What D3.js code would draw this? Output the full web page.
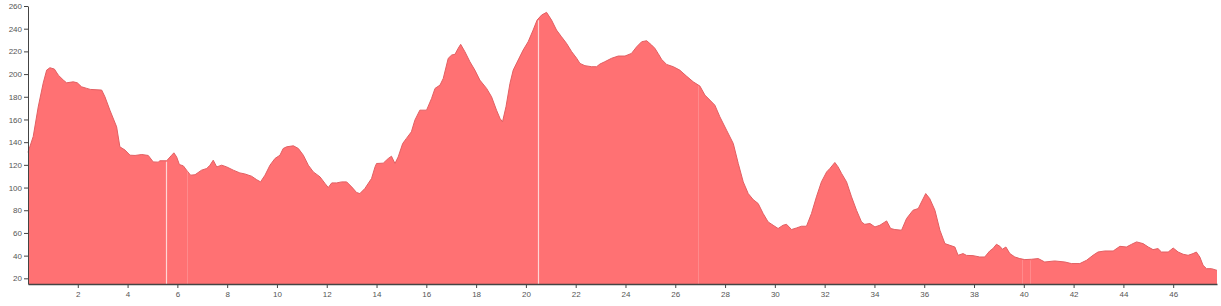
<!DOCTYPE html>
<html>
<head>
<meta charset="utf-8">
<script src="https://cdn.jsdelivr.net/npm/d3@7/dist/d3.min.js"></script>
<style>
  html, body { margin: 0; padding: 0; background: #ffffff; }
  svg { display: block; }
  .axis text { font-family: "Liberation Sans", Arial, sans-serif; font-size: 8px; fill: #555; }
  .axis path, .axis line { stroke: #444; }
</style>
</head>
<body>
<svg id="chart" width="1221" height="306"></svg>
<script>
// distance along route (km)
const distanceKm = [
  0.0, 0.21, 0.41, 0.61, 0.75, 0.88, 1.06, 1.22, 1.42, 1.55, 1.82, 1.98, 2.15, 2.36, 2.5, 2.96, 3.09, 3.29, 3.56, 3.69,
  3.9, 4.1, 4.3, 4.57, 4.83, 5.03, 5.23, 5.3, 5.57, 5.77, 5.86, 5.97, 6.08, 6.24, 6.37, 6.53, 6.71, 6.97, 7.18, 7.31,
  7.44, 7.58, 7.78, 7.98, 8.25, 8.51, 8.71, 8.98, 9.18, 9.34, 9.52, 9.72, 9.92, 10.12, 10.25, 10.39, 10.66, 10.86, 11.06, 11.26,
  11.46, 11.73, 11.93, 12.06, 12.2, 12.4, 12.6, 12.8, 13.0, 13.2, 13.33, 13.53, 13.8, 13.94, 14.0, 14.27, 14.47, 14.6, 14.74, 14.87,
  15.05, 15.2, 15.4, 15.54, 15.74, 16.01, 16.21, 16.35, 16.55, 16.68, 16.88, 17.02, 17.15, 17.28, 17.38, 17.55, 17.75, 17.95, 18.15, 18.42,
  18.62, 18.82, 18.96, 19.06, 19.2, 19.36, 19.49, 19.69, 19.89, 20.09, 20.29, 20.45, 20.63, 20.83, 21.03, 21.23, 21.43, 21.63, 21.84, 22.04,
  22.17, 22.37, 22.64, 22.84, 22.97, 23.17, 23.44, 23.71, 23.98, 24.24, 24.45, 24.65, 24.85, 25.05, 25.18, 25.31, 25.45, 25.65, 25.92, 26.18,
  26.45, 26.72, 26.99, 27.19, 27.39, 27.59, 27.79, 28.06, 28.33, 28.53, 28.73, 28.93, 29.13, 29.33, 29.53, 29.73, 29.93, 30.13, 30.33, 30.47,
  30.67, 30.87, 31.07, 31.27, 31.47, 31.67, 31.87, 32.08, 32.21, 32.41, 32.54, 32.68, 32.88, 33.08, 33.28, 33.48, 33.61, 33.82, 34.02, 34.22,
  34.49, 34.65, 34.82, 35.09, 35.29, 35.55, 35.76, 35.89, 36.06, 36.22, 36.43, 36.63, 36.83, 37.03, 37.23, 37.36, 37.56, 37.7, 37.96, 38.23,
  38.43, 38.63, 38.76, 38.9, 39.04, 39.14, 39.28, 39.44, 39.64, 39.84, 40.04, 40.31, 40.58, 40.84, 41.24, 41.65, 41.91, 42.25, 42.52, 42.78,
  42.98, 43.25, 43.59, 43.86, 44.12, 44.33, 44.53, 44.79, 45.0, 45.19, 45.39, 45.53, 45.8, 46.0, 46.2, 46.4, 46.6, 46.8, 46.93, 47.07,
  47.2, 47.34, 47.54, 47.76
];
// elevation (m)
const elevationM = [
  131, 145, 171, 192, 203.5, 205.6, 204.4, 199, 194.7, 192.3, 193.2, 192.3, 188.8, 187.4, 186.5, 185.9, 180, 168.2, 153.5, 135.9,
  133, 128.5, 128.3, 129.1, 128.3, 122.6, 122.4, 123.6, 123.6, 128.5, 130.6, 127, 120.3, 119.1, 115.3, 110.9, 111.3, 115.3, 116.8, 119.7,
  124.1, 118.2, 119.7, 118.2, 115.3, 112.9, 112, 110, 107, 105, 110.9, 119.7, 125.6, 128.5, 134.4, 135.9, 136.8, 134.4, 128.5, 119.7,
  113.8, 109.4, 103.6, 100, 104.1, 104.1, 105, 105, 100.6, 95.6, 94.7, 99.1, 108, 118.2, 121.2, 121.5, 125.6, 127.6, 121.2, 127,
  138.8, 143.3, 149.1, 159.4, 168.2, 168.2, 178.5, 187.4, 190.3, 196.2, 213.9, 216.8, 217.4, 222.7, 226.2, 219.7, 210.9, 203.5, 194.7, 187.4,
  180, 168.2, 160.9, 157.9, 171.2, 191.8, 203.5, 212.4, 221.2, 228.5, 238.8, 247.6, 252, 254.4, 247.6, 238.8, 232.9, 227.1, 219.7, 213.9,
  209.4, 207.4, 206.5, 206.5, 208.8, 210.9, 213.9, 215.9, 215.9, 218.2, 224.1, 228.5, 229.4, 225.6, 222.7, 218.2, 213, 208.5, 206.5, 203.5,
  198.2, 193.2, 189.4, 181.5, 177.1, 172.6, 162.4, 150.6, 138.8, 121.2, 105, 94.7, 89.4, 85.9, 77.1, 69.7, 66.8, 63.9, 66.8, 67.6,
  63, 64.4, 65.9, 65.9, 77.1, 91.8, 105, 113.8, 116.8, 122.1, 118.2, 112.4, 105, 91.8, 80, 69.7, 67.6, 68.3, 65.3, 66.8,
  70.6, 63.9, 63, 62.4, 72.7, 80, 81.5, 87.3, 94.7, 90.3, 80, 62.4, 50.6, 49.1, 47.6, 40.3, 41.8, 40.2, 40, 38.8,
  38.8, 44.1, 46.2, 50, 48.2, 45.6, 47.6, 41.8, 38.8, 37.4, 36.5, 36.8, 37.4, 34.4, 35.3, 34.4, 33, 33, 35.9, 40.3,
  43.2, 44.1, 44.1, 48.2, 47.6, 50, 52.1, 50.6, 47.6, 45.3, 46.2, 43.2, 43.2, 46.7, 43.2, 41.2, 40.3, 41.8, 43.2, 38.8,
  31.5, 28.5, 28.5, 27
];
// tick labels
const xTicks = [2, 4, 6, 8, 10, 12, 14, 16, 18, 20, 22, 24, 26, 28, 30, 32, 34, 36, 38, 40, 42, 44, 46];
const yTicks = [20, 40, 60, 80, 100, 120, 140, 160, 180, 200, 220, 240, 260];
// segment boundaries (km) visible as thin light seams in the profile
const seamsStrong = [5.55, 20.48];
const seamsFaint = [6.38, 26.92, 39.92, 40.24];

(function () {
  const data = distanceKm.map((d, i) => ({ km: d, ele: elevationM[i] }));

  const svg = d3.select("#chart");
  const mLeft = 28, mRight = 1217, mTop = 6, mBottom = 284;

  const x = d3.scaleLinear().domain([0, d3.max(distanceKm)]).range([mLeft, mRight]);
  const y = d3.scaleLinear().domain([15, 260]).range([mBottom, mTop]);

  const area = d3.area()
    .x(d => x(d.km))
    .y0(mBottom)
    .y1(d => y(d.ele))
    .curve(d3.curveLinear);

  svg.append("path")
    .datum(data)
    .attr("d", area)
    .attr("fill", "#ff7173")
    .attr("stroke", "none");

  svg.append("path")
    .datum(data)
    .attr("d", d3.line().x(d => x(d.km)).y(d => y(d.ele)))
    .attr("fill", "none")
    .attr("stroke", "#e25f62")
    .attr("stroke-width", 1);

  const eleAt = km => {
    const i = d3.bisector(d => d.km).left(data, km);
    if (i <= 0) return data[0].ele;
    if (i >= data.length) return data[data.length - 1].ele;
    const a = data[i - 1], b = data[i];
    return a.ele + (b.ele - a.ele) * (km - a.km) / (b.km - a.km);
  };

  svg.selectAll("line.seam-strong").data(seamsStrong).enter().append("line")
    .attr("class", "seam-strong")
    .attr("x1", d => Math.round(x(d)) + 0.5).attr("x2", d => Math.round(x(d)) + 0.5)
    .attr("y1", d => y(eleAt(d)) + 1).attr("y2", mBottom)
    .attr("stroke", "#ffd6d6").attr("stroke-width", 1.2);

  svg.selectAll("line.seam-faint").data(seamsFaint).enter().append("line")
    .attr("class", "seam-faint")
    .attr("x1", d => Math.round(x(d)) + 0.5).attr("x2", d => Math.round(x(d)) + 0.5)
    .attr("y1", d => y(eleAt(d)) + 1).attr("y2", mBottom)
    .attr("stroke", "#ff8a8c").attr("stroke-width", 1);

  const xAxis = d3.axisBottom(x).tickValues(xTicks).tickSize(4).tickPadding(3).tickSizeOuter(0);
  const yAxis = d3.axisLeft(y).tickValues(yTicks).tickSize(4).tickPadding(2).tickSizeOuter(0);

  svg.append("g").attr("class", "axis x")
    .attr("transform", `translate(0,${mBottom})`)
    .call(xAxis)
    .call(g => g.select(".domain").attr("stroke", "#555").attr("stroke-width", 1.5));

  svg.append("g").attr("class", "axis y")
    .attr("transform", `translate(${mLeft},0)`)
    .call(yAxis)
    .call(g => g.select(".domain").attr("stroke", "#555"));
})();
</script>
</body>
</html>
